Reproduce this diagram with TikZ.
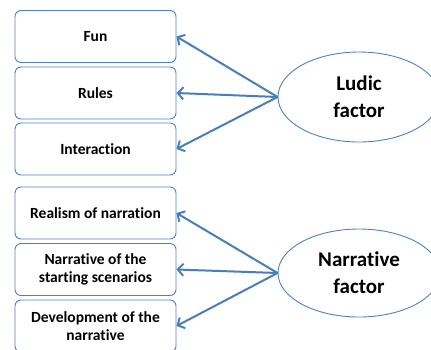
\documentclass[tikz,border=0pt]{standalone}
\usepackage{fontspec}
\setmainfont[Ligatures=NoCommon]{Carlito}
\usepackage{xcolor}
\usepackage{tikz}
\usetikzlibrary{arrows.meta,shapes.geometric}
\definecolor{officeblue}{HTML}{4F81BD}
\definecolor{linkblue}{HTML}{4A7EBB}

\begin{document}
\begin{tikzpicture}[
  x=1pt, y=-1pt,
  item/.style={draw=officeblue, line width=0.9pt, rounded corners=6pt, minimum width=161pt, minimum height=52pt, align=center, inner sep=2pt, font=\bfseries\fontsize{15.5}{18}\selectfont},
  factor/.style={draw=officeblue, ellipse, line width=0.9pt, minimum width=162pt, minimum height=90pt, inner sep=0pt, align=center, font=\bfseries\fontsize{21}{27}\selectfont},
  link/.style={draw=linkblue, line width=2pt, -{Straight Barb[length=5.5pt,width=12pt]}}
]
  \useasboundingbox (0,0) rectangle (431,349);
  \clip (0,0) rectangle (431,349);
  \foreach \name/\y/\txt in {
    fun/36.5/Fun, rules/93/Rules, interaction/149/Interaction,
    realism/213/Realism of narration, starting/269.5/Narrative of the\\starting scenarios,
    development/326/Development of the\\narrative
  } {
    \node[item] (\name) at (95.5,\y) {\txt};
  }
  \node[factor] (ludic) at (359,97) {Ludic\\factor};
  \node[factor, minimum height=88pt] (narrative) at (359,273) {Narrative\\factor};
  \foreach \src/\dst in {ludic/fun, ludic/rules, ludic/interaction,
    narrative/realism, narrative/starting, narrative/development} {
    \draw[link] (\src.west) -- (\dst.east);
  }
\end{tikzpicture}
\end{document}
